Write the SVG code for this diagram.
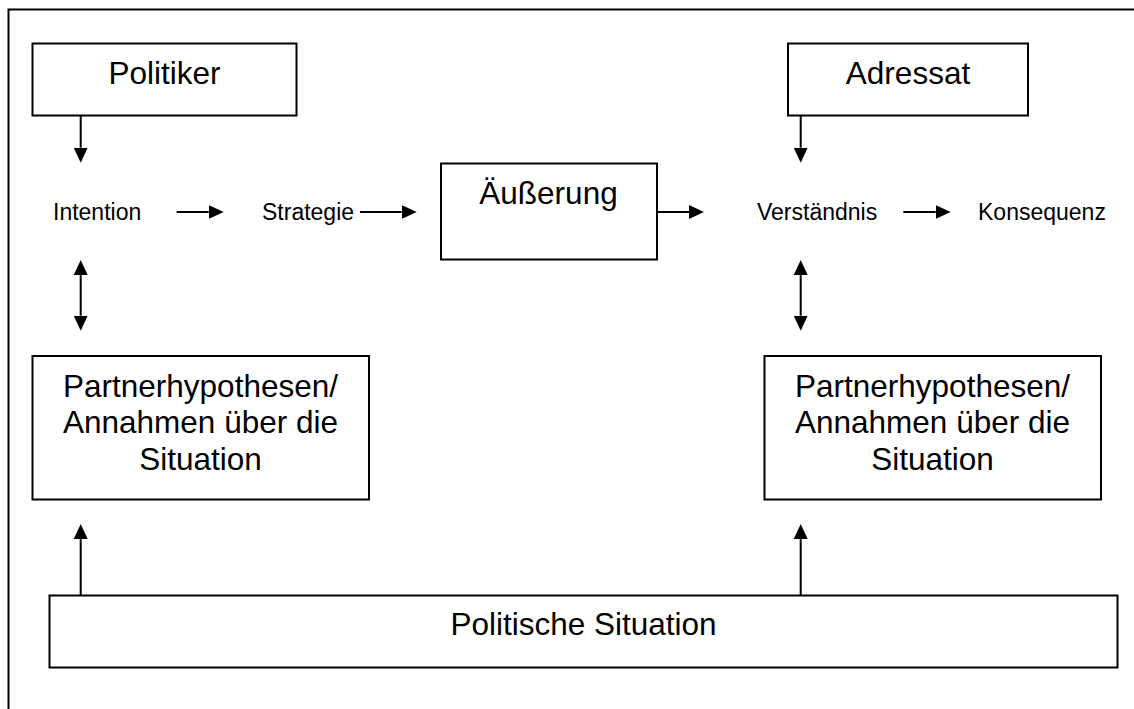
<svg xmlns="http://www.w3.org/2000/svg" width="1134" height="709" viewBox="0 0 1134 709">
<style>
.box{fill:#fff;stroke:#000;stroke-width:2}
.big{font-family:"Liberation Sans",Arial,sans-serif;font-size:31.5px;fill:#000;text-anchor:middle}
.small{font-family:"Liberation Sans",Arial,sans-serif;font-size:23px;fill:#000}
.con{stroke:#000;stroke-width:2;fill:none;marker-end:url(#ah)}
.dbl{stroke:#000;stroke-width:2;fill:none;marker-end:url(#ah);marker-start:url(#ah)}
</style>
<defs>
<marker id="ah" markerUnits="userSpaceOnUse" markerWidth="16" markerHeight="16" refX="0" refY="7" orient="auto-start-reverse" viewBox="0 0 16 14">
<path d="M0,0 L15,7 L0,14 z" fill="#000"/>
</marker>
</defs>
<rect width="1134" height="709" fill="#fff"/>
<path d="M8.5,709 L8.5,9.5 L1134,9.5" fill="none" stroke="#000" stroke-width="2"/>

<g id="politiker">
<rect class="box" x="32.5" y="43.5" width="264" height="72"/>
<text class="big" x="164.5" y="84">Politiker</text>
</g>
<g id="adressat">
<rect class="box" x="788" y="43.5" width="240" height="72"/>
<text class="big" x="908" y="84">Adressat</text>
</g>
<g id="aeusserung">
<rect class="box" x="441" y="163.5" width="216" height="96"/>
<text class="big" x="548.5" y="204">Äußerung</text>
</g>
<g id="intention"><text class="small" x="53" y="220">Intention</text></g>
<g id="strategie"><text class="small" x="262" y="220">Strategie</text></g>
<g id="verstaendnis"><text class="small" x="757" y="220">Verständnis</text></g>
<g id="konsequenz"><text class="small" x="978" y="220">Konsequenz</text></g>
<g id="partner-left">
<rect class="box" x="32.5" y="356" width="336.5" height="143.5"/>
<text class="big" x="200.5" y="397">Partnerhypothesen/</text>
<text class="big" x="200.5" y="433">Annahmen über die</text>
<text class="big" x="200.5" y="470">Situation</text>
</g>
<g id="partner-right">
<rect class="box" x="764.5" y="356" width="336.5" height="143.5"/>
<text class="big" x="932.5" y="397">Partnerhypothesen/</text>
<text class="big" x="932.5" y="433">Annahmen über die</text>
<text class="big" x="932.5" y="470">Situation</text>
</g>
<g id="politische-situation">
<rect class="box" x="49.5" y="595.5" width="1068" height="72"/>
<text class="big" x="583.5" y="635">Politische Situation</text>
</g>

<g id="connectors">
<line class="con" x1="80.7" y1="116" x2="80.7" y2="147.7"/>
<line class="con" x1="176.7" y1="212" x2="208.7" y2="212"/>
<line class="con" x1="360" y1="212" x2="401.7" y2="212"/>
<line class="con" x1="657" y1="212" x2="689" y2="212"/>
<line class="con" x1="800.7" y1="116" x2="800.7" y2="147.7"/>
<line class="con" x1="903.3" y1="212" x2="935.7" y2="212"/>
<line class="dbl" x1="80.7" y1="275" x2="80.7" y2="315.7"/>
<line class="dbl" x1="800.7" y1="275" x2="800.7" y2="315.7"/>
<line class="con" x1="80.7" y1="596" x2="80.7" y2="539"/>
<line class="con" x1="800.7" y1="596" x2="800.7" y2="539"/>
</g>
</svg>
